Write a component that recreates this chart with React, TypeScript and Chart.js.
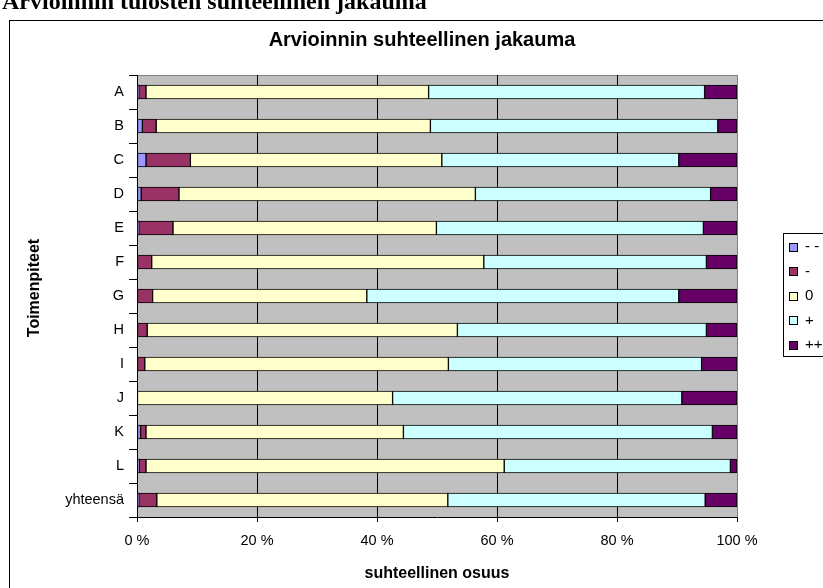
import React, { useEffect, useRef } from "react";
import { Chart, registerables } from "chart.js";

Chart.register(...registerables);

const categories = ["A", "B", "C", "D", "E", "F", "G", "H", "I", "J", "K", "L", "yhteensä"];
const seriesLabels = ["- -", "-", "0", "+", "++"];
const veryNegative = [0.3, 0.9, 1.5, 0.7, 0.3, 0, 0, 0, 0, 0, 0.6, 0.35, 0.3];
const negative = [1.2, 2.3, 7.4, 6.3, 5.7, 2.45, 2.6, 1.7, 1.3, 0, 0.9, 1.15, 3.0];
const neutral = [47.1, 45.7, 41.9, 49.4, 43.9, 55.35, 35.7, 51.7, 50.6, 42.6, 42.9, 59.7, 48.5];
const positive = [46.0, 47.9, 39.5, 39.2, 44.5, 37.1, 52.0, 41.5, 42.2, 48.2, 51.5, 37.7, 42.9];
const veryPositive = [5.4, 3.2, 9.7, 4.4, 5.6, 5.1, 9.7, 5.1, 5.9, 9.2, 4.1, 1.1, 5.3];
const xTicks = [0, 20, 40, 60, 80, 100];
const colors = ["#9999FF", "#993366", "#FFFFCC", "#CCFFFF", "#660066"];

const pageTitle = "Arvioinnin tulosten suhteellinen jakauma";
const chartTitle = "Arvioinnin suhteellinen jakauma";
const yTitle = "Toimenpiteet";
const xTitle = "suhteellinen osuus";

const FONT = "'Liberation Sans', Arial, sans-serif";

const decor = {
  id: "decor",
  beforeDraw(chart: any) {
    const { ctx, chartArea: a } = chart;
    ctx.save();
    ctx.fillStyle = "#fff";
    ctx.fillRect(0, 0, chart.width, chart.height);
    ctx.strokeStyle = "#000";
    ctx.lineWidth = 1;
    ctx.strokeRect(9.5, 20.5, 1000, 1000);
    ctx.fillStyle = "#C0C0C0";
    ctx.fillRect(a.left, a.top, a.right - a.left, a.bottom - a.top);
    ctx.strokeStyle = "#808080";
    ctx.beginPath();
    ctx.moveTo(a.left, Math.round(a.top) + 0.5);
    ctx.lineTo(a.right, Math.round(a.top) + 0.5);
    ctx.stroke();
    ctx.restore();
  },
  afterDraw(chart: any) {
    const { ctx, chartArea: a } = chart;
    ctx.save();
    ctx.fillStyle = "#000";
    ctx.textBaseline = "middle";
    ctx.textAlign = "center";
    ctx.font = `bold 20px ${FONT}`;
    ctx.fillText(chartTitle, 422, 40);
    ctx.font = `bold 16px ${FONT}`;
    ctx.fillText(xTitle, (a.left + a.right) / 2, 574);
    ctx.save();
    ctx.translate(35, 288);
    ctx.rotate(-Math.PI / 2);
    ctx.fillText(yTitle, 0, 0);
    ctx.restore();

    // legend
    ctx.strokeStyle = "#000";
    ctx.lineWidth = 1;
    ctx.strokeRect(783.5, 233.5, 60, 123);
    ctx.font = `15px ${FONT}`;
    ctx.textAlign = "left";
    seriesLabels.forEach((lab, i) => {
      const cy = 246.5 + i * 24.5;
      const y0 = Math.round(cy - 4) + 0.5;
      ctx.fillStyle = colors[i];
      ctx.fillRect(789.5, y0, 8, 8);
      ctx.strokeRect(789.5, y0, 8, 8);
      ctx.fillStyle = "#000";
      ctx.fillText(lab, 805, cy + 0.5);
    });
    ctx.restore();
  },
};

export default function App() {
  const ref = useRef<HTMLCanvasElement | null>(null);
  useEffect(() => {
    if (!ref.current) return;
    const data = [veryNegative, negative, neutral, positive, veryPositive];
    const chart = new Chart(ref.current, {
      type: "bar",
      data: {
        labels: categories,
        datasets: data.map((d, i) => ({
          label: seriesLabels[i],
          data: d,
          backgroundColor: colors[i],
          borderColor: "#000",
          borderWidth: 1,
          borderSkipped: false,
          barThickness: 14,
          stack: "s",
        })),
      },
      options: {
        indexAxis: "y",
        responsive: false,
        animation: false,
        events: [],
        layout: { padding: { top: 75, right: 86, left: 0, bottom: 0 } },
        plugins: {
          legend: { display: false },
          title: { display: false },
          tooltip: { enabled: false },
        },
        scales: {
          x: {
            stacked: true,
            min: 0,
            max: 100,
            afterBuildTicks: (s: any) => {
              s.ticks = xTicks.map((v) => ({ value: v }));
            },
            ticks: {
              color: "#000",
              font: { family: FONT, size: 14.5 },
              padding: 10,
              callback: (v: any) => `${v} %`,
              maxRotation: 0,
            },
            grid: {
              color: (c: any) => (c.tick && c.tick.value === 100 ? "#808080" : "#000"),
              tickColor: "#000",
              tickLength: 5,
              drawTicks: true,
            },
            border: { display: true, color: "#000" },
            afterFit: (s: any) => {
              s.height = 71;
            },
          },
          y: {
            stacked: true,
            ticks: {
              color: "#000",
              font: { family: FONT, size: 14.5 },
              padding: 5,
            },
            grid: {
              drawOnChartArea: false,
              drawTicks: true,
              tickLength: 8,
              color: "#000",
              offset: true,
            },
            border: { display: true, color: "#000" },
            afterFit: (s: any) => {
              s.width = 137;
            },
          },
        },
      },
      plugins: [decor],
    });
    return () => chart.destroy();
  }, []);

  return (
    <div
      style={{
        position: "fixed",
        left: 0,
        top: 0,
        width: 823,
        height: 588,
        overflow: "hidden",
        background: "#fff",
      }}
    >
      <canvas ref={ref} width={823} height={588} style={{ position: "absolute", left: 0, top: 0 }} />
      <div
        style={{
          position: "absolute",
          left: 2,
          top: -11,
          fontFamily: "'Liberation Serif', serif",
          fontWeight: "bold",
          fontSize: 24,
          lineHeight: "24px",
          whiteSpace: "nowrap",
          color: "#000",
        }}
      >
        {pageTitle}
      </div>
    </div>
  );
}
